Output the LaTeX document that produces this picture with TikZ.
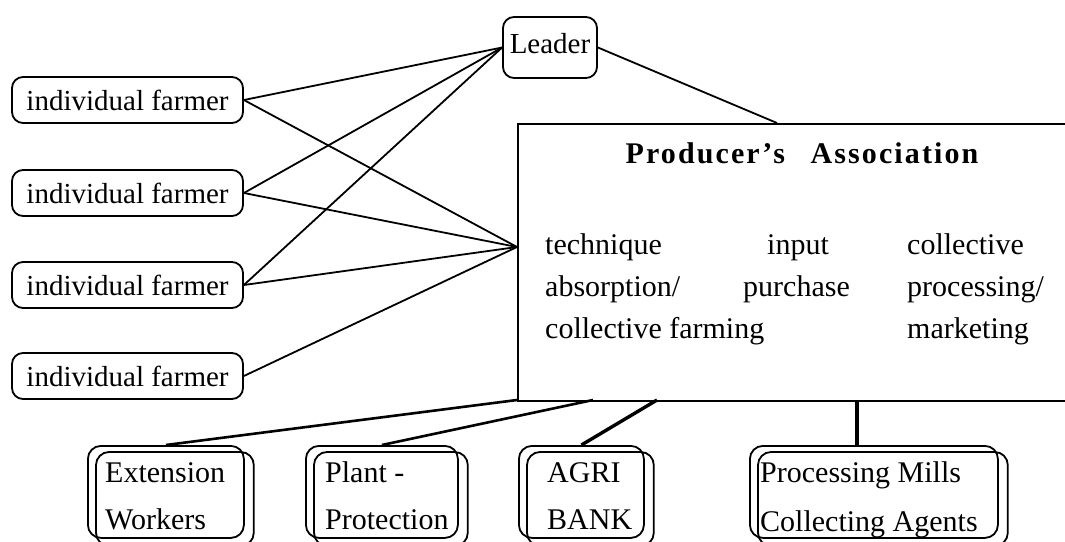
\documentclass[tikz,border=0pt]{standalone}
\usepackage{fontspec}
\setmainfont{Liberation Serif}
\newfontfamily\titlefont[LetterSpace=7]{Liberation Serif}
\usetikzlibrary{calc}
\begin{document}
\begin{tikzpicture}[x=1pt,y=-1pt,
  every node/.style={font=\fontsize{29}{34}\selectfont, inner sep=0pt},
  fbox/.style={draw, line width=1.8pt, rounded corners=11pt, minimum width=231pt, minimum height=46pt, text height=20pt, text depth=0pt},
  lbox/.style={draw, line width=1.8pt, rounded corners=11pt, minimum width=94pt, minimum height=61pt, text height=20pt, text depth=9pt},
  obox/.style={draw, line width=1.8pt, rounded corners=13pt, minimum height=92pt, anchor=north west},
  shadowline/.style={draw, line width=1.8pt, rounded corners=13pt},
  ptext/.style={anchor=base west, font=\fontsize{30}{34}\selectfont},
  wire/.style={line width=1.8pt},
  fatwire/.style={line width=2.6pt},
  boldwire/.style={line width=3.4pt}]
\useasboundingbox (0,0) rectangle (1065,541);
\clip (0,0) rectangle (1065,541);

% farmers
\node[fbox] (f1) at (127.5,100) {individual farmer};
\node[fbox] (f2) at (127.5,193) {individual farmer};
\node[fbox] (f3) at (127.5,285) {individual farmer};
\node[fbox] (f4) at (127.5,376) {individual farmer};

% leader
\node[lbox] (leader) at (550,47.5) {Leader};

% producer's association box (open on the right)
\node[draw, line width=2.2pt, minimum width=570pt, minimum height=277pt, anchor=north west] (pa) at (517,123) {};
\node[anchor=base, font=\titlefont\bfseries\fontsize{30}{34}\selectfont] (title) at (802,163) {Producer’s\hspace{16pt} Association};

\node[ptext] (t11) at (545,254) {technique};
\node[ptext] (t12) at (767,254) {input};
\node[ptext] (t13) at (907,254) {collective};
\node[ptext] (t21) at (545,296) {absorption/};
\node[ptext] (t22) at (743,296) {purchase};
\node[ptext] (t23) at (907,296) {processing/};
\node[ptext] (t31) at (545,338) {collective farming};
\node[ptext] (t33) at (907,338) {marketing};

\coordinate (conv) at (517,247);
\coordinate (patop) at (777,123);
\coordinate (pe) at (517,400);
\coordinate (pp) at (593,400);
\coordinate (pb) at (657,400);
\coordinate (pm) at (857,400);

% bottom double boxes
\node[obox, minimum width=156pt] (ext) at (87,445) {};
\node[obox, minimum width=152pt] (plant) at (305,445) {};
\node[obox, minimum width=125pt] (agri) at (518,445) {};
\node[obox, minimum width=248pt] (proc) at (749,445) {};
\foreach \b in {ext,plant,agri,proc}{
  \draw[shadowline] ([shift={(9,7)}]\b.north west) rectangle ([shift={(9,7)}]\b.south east);
}
\node[ptext] (ext1) at (105,482) {Extension};
\node[ptext] (ext2) at (105,529) {Workers};
\node[ptext] (pl1) at (325,482) {Plant -};
\node[ptext] (pl2) at (325,529) {Protection};
\node[ptext] (ag1) at (547,482) {AGRI};
\node[ptext] (ag2) at (547,529) {BANK};
\node[ptext] (pr1) at (760,482) {Processing Mills};
\node[ptext] (pr2) at (760,531) {Collecting Agents};

% connectors
\foreach \f in {f1,f2,f3}{\draw[wire] (\f.east) -- (leader.west);}
\foreach \f in {f1,f2,f3,f4}{\draw[wire] (\f.east) -- (conv);}
\draw[wire] (leader.east) -- (patop);
\draw[fatwire] (pe) -- (ext.north);
\draw[fatwire] (pp) -- (plant.north);
\draw[boldwire] (pb) -- (agri.north);
\draw[boldwire] (pm) -- (pm |- proc.north);
\end{tikzpicture}
\end{document}
